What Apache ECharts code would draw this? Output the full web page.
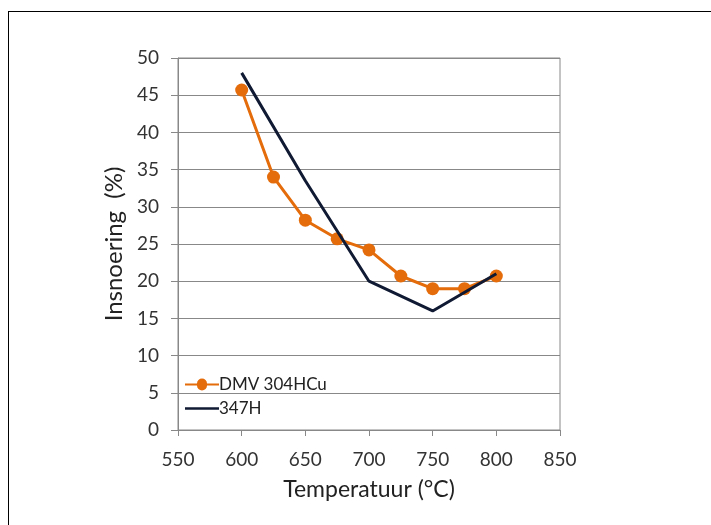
<!DOCTYPE html>
<html><head><meta charset="utf-8">
<script src="https://cdn.jsdelivr.net/npm/echarts@6/dist/echarts.min.js"></script>
<style>html,body{margin:0;padding:0;background:#fff;}#c{width:711px;height:525px;}
#frame{position:absolute;left:8px;top:11px;width:720px;height:530px;border:1.5px solid #000;pointer-events:none;}</style>
</head><body><div id="c"></div><div id="frame"></div>
<script>
const temps = [600, 625, 650, 675, 700, 725, 750, 775, 800];
const dmv = [45.7, 34.0, 28.2, 25.7, 24.2, 20.7, 19.0, 19.0, 20.7];
const t347 = [600, 650, 700, 750, 800];
const v347 = [48.0, 33.5, 20.0, 16.0, 21.0];
const seriesNames = ['DMV 304HCu', '347H'];
const xTitle = 'Temperatuur (°C)';
const yTitle = 'Insnoering  (%)';

const font = 'Lato, "Open Sans", sans-serif';
const chart = echarts.init(document.getElementById('c'));
chart.setOption({
  animation: false,
  grid: {left: 178, right: 151, top: 58, bottom: 95, show: true, borderColor: '#888', borderWidth: 1},
  legend: {
    orient: 'vertical', left: 180, top: 371, itemGap: 7, itemWidth: 34, itemHeight: 14,
    textStyle: {fontFamily: font, fontSize: 17, color: '#222', padding: [0,0,0,-5]},
    data: [
      {name: seriesNames[0], icon: 'path://M0,6 L12,6 A5,5 0 1 1 22,6 L34,6 L34,8 L22,8 A5,5 0 1 1 12,8 L0,8 Z'},
      {name: seriesNames[1], icon: 'path://M0,5.8 L34,5.8 L34,8.2 L0,8.2 Z'}
    ]
  },
  xAxis: {
    type: 'value', min: 550, max: 850, interval: 50,
    name: xTitle, nameLocation: 'middle', nameGap: 48,
    nameTextStyle: {fontFamily: font, fontSize: 23, color: '#222'},
    axisLine: {show: true, lineStyle: {color: '#888'}},
    axisTick: {show: true, length: 6, lineStyle: {color: '#888'}},
    axisLabel: {fontFamily: font, fontSize: 19, color: '#333', margin: 20},
    splitLine: {show: false}
  },
  yAxis: {
    type: 'value', min: 0, max: 50, interval: 5,
    name: yTitle, nameLocation: 'middle', nameGap: 48,
    nameTextStyle: {fontFamily: font, fontSize: 24, color: '#222'},
    axisLine: {show: true, lineStyle: {color: '#888'}},
    axisTick: {show: true, length: 7, lineStyle: {color: '#888'}},
    axisLabel: {fontFamily: font, fontSize: 19, color: '#333', margin: 19},
    splitLine: {show: true, lineStyle: {color: '#888', width: 1}}
  },
  series: [
    {name: seriesNames[0], type: 'line', data: temps.map((t,i)=>[t, dmv[i]]),
     symbol: 'circle', symbolSize: 13, lineStyle: {color: '#E46C0A', width: 3},
     itemStyle: {color: '#E46C0A'}, z: 2},
    {name: seriesNames[1], type: 'line', data: t347.map((t,i)=>[t, v347[i]]),
     symbol: 'none', lineStyle: {color: '#101a33', width: 3},
     itemStyle: {color: '#101a33'}, z: 3}
  ]
});
</script></body></html>
